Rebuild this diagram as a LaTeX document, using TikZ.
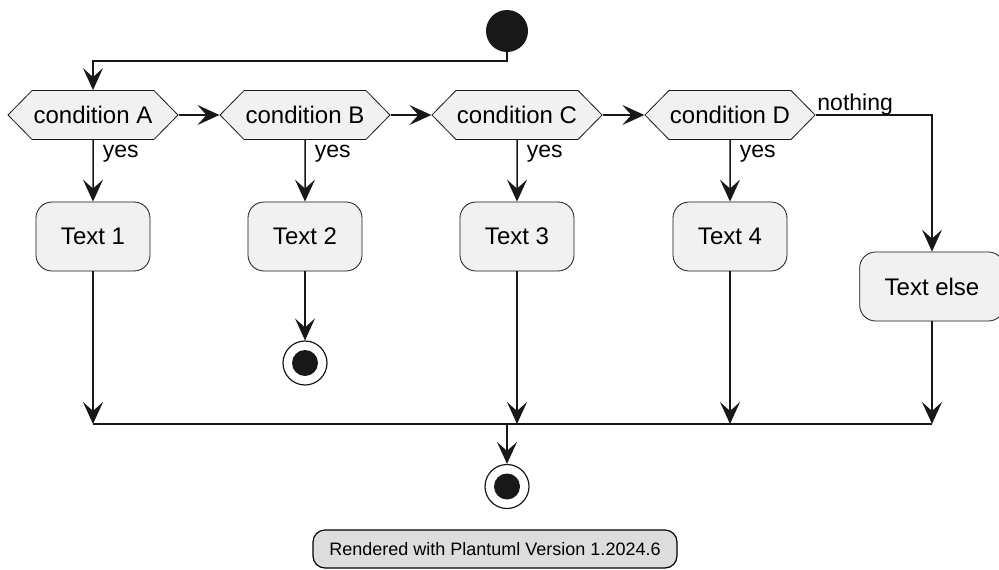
\documentclass[tikz,border=0pt]{standalone}
\usepackage{fontspec}
\setmainfont{Liberation Sans}
\usetikzlibrary{arrows.meta, shapes.symbols}
\definecolor{ink}{HTML}{181818}
\definecolor{boxfill}{HTML}{F1F1F1}
\definecolor{notefill}{HTML}{DDDDDD}

\begin{document}
\begin{tikzpicture}[
        x=1pt, y=-1pt,
        font=\fontsize{24}{28}\selectfont,
        >={Stealth[length=22pt, width=20pt, inset=9pt]},
        cond/.style={
            signal,
            signal to=east and west,
            signal pointer angle=91,
            draw=ink,
            fill=boxfill,
            line width=0.8pt,
            inner xsep=1pt,
            inner ysep=0pt,
            minimum width=170pt,
            minimum height=49pt
        },
        act/.style={
            draw=ink,
            fill=boxfill,
            line width=0.8pt,
            rounded corners=16pt,
            inner xsep=25pt,
            minimum height=69pt
        },
        startc/.style={circle, fill=ink, inner sep=0pt, minimum size=42pt},
        endc/.style={
            circle,
            draw=ink,
            line width=1.2pt,
            inner sep=0pt,
            minimum size=44pt,
            path picture={\fill[ink] (path picture bounding box.center) circle (13pt);}
        },
        flow/.style={->, draw=ink, line width=1.5pt},
        lbl/.style={font=\fontsize{23}{27}\selectfont, inner sep=0pt, anchor=base west}
    ]
    \useasboundingbox (0,0) rectangle (999,570);

    \node[startc] (S) at (507,31) {};
    \node[cond] (A) at (93,115) {condition A};
    \node[cond] (B) at (305,115) {condition B};
    \node[cond] (C) at (517,115) {condition C};
    \node[cond] (D) at (730,115) {condition D};

    \node[act] (T1) at (93,236.5) {Text 1};
    \node[act] (T2) at (305,236.5) {Text 2};
    \node[act] (T3) at (517,236.5) {Text 3};
    \node[act] (T4) at (730,236.5) {Text 4};
    \node[act] (TE) at (932,286.5) {Text else};

    \node[endc] (E1) at (305,363) {};
    \node[endc] (E2) at (507,486.5) {};

    \coordinate (J1) at (93,424);
    \coordinate (J3) at (517,424);
    \coordinate (J4) at (730,424);
    \coordinate (J5) at (932,424);
    \coordinate (JM) at (507,424);

    \draw[flow] (S.south) -- ++(0,9) -| (A.north);
    \draw[flow] (A.east) -- (B.west);
    \draw[flow] (B.east) -- (C.west);
    \draw[flow] (C.east) -- (D.west);
    \draw[flow] (D.east) -| node[lbl, pos=0, xshift=1pt, yshift=5pt] {nothing} (TE.north);

    \draw[flow] (A) -- node[lbl, pos=0, xshift=9pt, yshift=-18pt] {yes} (T1);
    \draw[flow] (B) -- node[lbl, pos=0, xshift=9pt, yshift=-18pt] {yes} (T2);
    \draw[flow] (C) -- node[lbl, pos=0, xshift=9pt, yshift=-18pt] {yes} (T3);
    \draw[flow] (D) -- node[lbl, pos=0, xshift=9pt, yshift=-18pt] {yes} (T4);

    \draw[flow] (T1) -- (J1);
    \draw[flow] (T2) -- (E1);
    \draw[flow] (T3) -- (J3);
    \draw[flow] (T4) -- (J4);
    \draw[flow] (TE) -- (J5);
    \draw[draw=ink, line width=1.5pt] (J1) -- (J5);
    \draw[flow] (JM) -- (E2);

    \node[draw, fill=notefill, rounded corners=12pt, line width=1.2pt,
        minimum width=364pt, minimum height=38pt,
        font=\fontsize{18}{21}\selectfont] (F) at (495,549) {Rendered with Plantuml Version 1.2024.6};
\end{tikzpicture}
\end{document}
